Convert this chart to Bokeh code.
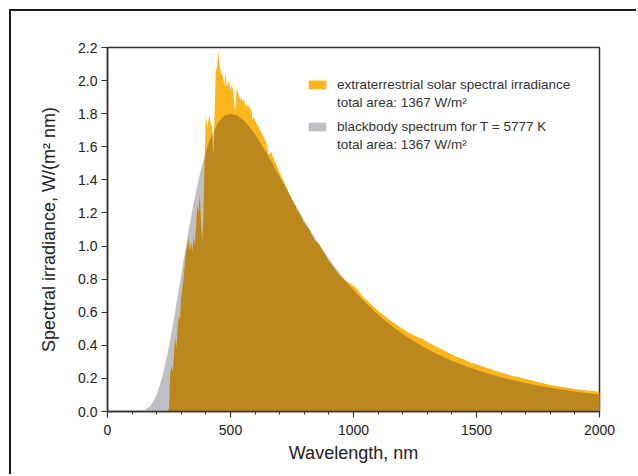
import numpy as np
from bokeh.plotting import figure
from bokeh.models import Range1d, FixedTicker, NumeralTickFormatter, Legend, LegendItem
from bokeh.embed import file_html
from bokeh.resources import INLINE

# Blackbody spectrum, T = 5777 K
bb_wavelength = list(range(100, 2025, 25))
bb_irradiance = [
    0.000, 0.001, 0.007, 0.033, 0.099, 0.220, 0.393, 0.603, 0.830, 1.054,
    1.259, 1.434, 1.573, 1.677, 1.747, 1.787, 1.799, 1.791, 1.765, 1.725,
    1.674, 1.616, 1.553, 1.487, 1.420, 1.352, 1.284, 1.219, 1.155, 1.093,
    1.034, 0.977, 0.924, 0.872, 0.824, 0.778, 0.735, 0.694, 0.656, 0.620,
    0.586, 0.554, 0.524, 0.496, 0.469, 0.444, 0.421, 0.399, 0.378, 0.359,
    0.340, 0.323, 0.307, 0.292, 0.278, 0.264, 0.251, 0.239, 0.228, 0.217,
    0.207, 0.198, 0.189, 0.180, 0.172, 0.1645, 0.157, 0.1505, 0.144, 0.138,
    0.132, 0.1265, 0.121, 0.116, 0.1115, 0.107, 0.103,
]

# Extraterrestrial solar spectral irradiance
solar_wavelength = list(range(245, 805, 5)) + list(range(820, 2020, 20))
solar_irradiance = [
    # 245 - 400
    0.00, 0.02, 0.22, 0.28, 0.24, 0.33, 0.45, 0.38, 0.50, 0.58,
    0.55, 0.70, 0.74, 0.82, 0.90, 0.97, 1.00, 1.05, 0.97, 1.02,
    0.96, 1.06, 1.00, 1.12, 1.25, 1.20, 1.31, 1.15, 1.02, 1.18,
    1.52, 1.80,
    # 405 - 600
    1.72, 1.76, 1.79, 1.74, 1.72, 1.55, 1.78, 2.05, 2.08, 2.18,
    2.10, 2.06, 2.04, 2.02, 1.97, 2.05, 1.96, 2.00, 1.98, 1.94,
    1.97, 1.95, 1.86, 1.80, 1.96, 1.93, 1.91, 1.88, 1.90, 1.87,
    1.89, 1.84, 1.86, 1.84, 1.85, 1.83, 1.82, 1.76, 1.78, 1.76,
    # 605 - 800
    1.74, 1.73, 1.72, 1.70, 1.69, 1.67, 1.66, 1.64, 1.63, 1.60,
    1.55, 1.56, 1.57, 1.55, 1.53, 1.51, 1.50, 1.48, 1.46, 1.44,
    1.43, 1.41, 1.40, 1.38, 1.36, 1.35, 1.33, 1.31, 1.30, 1.28,
    1.27, 1.25, 1.24, 1.22, 1.21, 1.20, 1.18, 1.17, 1.15, 1.14,
    # 820 - 2000
    1.10, 1.04, 1.01, 0.96, 0.91, 0.87, 0.83, 0.80, 0.78, 0.76,
    0.73, 0.69, 0.665, 0.635, 0.61, 0.585, 0.56, 0.54, 0.52, 0.50,
    0.48, 0.465, 0.45, 0.44, 0.42, 0.405, 0.39, 0.375, 0.36, 0.345,
    0.33, 0.32, 0.305, 0.295, 0.285, 0.275, 0.265, 0.255, 0.245, 0.235,
    0.227, 0.218, 0.21, 0.205, 0.197, 0.19, 0.182, 0.175, 0.168, 0.16,
    0.155, 0.15, 0.146, 0.14, 0.136, 0.132, 0.128, 0.125, 0.122, 0.12,
]

x_ticks = [0, 500, 1000, 1500, 2000]
x_minor_ticks = list(range(0, 2100, 100))
y_ticks = [0.0, 0.2, 0.4, 0.6, 0.8, 1.0, 1.2, 1.4, 1.6, 1.8, 2.0, 2.2]

legend_solar = ["extraterrestrial solar spectral irradiance", "total area: 1367 W/m\u00b2"]
legend_bb = ["blackbody spectrum for T = 5777 K", "total area: 1367 W/m\u00b2"]

ORANGE = "#FDB51C"
GRAY = "#BFBFC7"
OVERLAP = "#BA881D"
FONT = "Liberation Sans"

p = figure(width=627, height=465, output_backend="svg", toolbar_location=None,
           x_range=Range1d(0, 2000), y_range=Range1d(0, 2.2),
           min_border_left=96, min_border_right=39, min_border_top=36, min_border_bottom=65,
           styles={"margin-left": "9px", "margin-top": "9px",
                   "border-left": "2px solid #1a1a1a", "border-top": "2px solid #1a1a1a"})

sw = np.array(solar_wavelength, dtype=float)
sv = np.array(solar_irradiance, dtype=float)
bb_on_solar = np.interp(sw, bb_wavelength, bb_irradiance)
overlap = np.minimum(sv, bb_on_solar)

r_bb = p.varea(x=bb_wavelength, y1=0, y2=bb_irradiance, fill_color=GRAY)
r_sol = p.varea(x=solar_wavelength, y1=0, y2=solar_irradiance, fill_color=ORANGE)
p.varea(x=sw, y1=0, y2=overlap, fill_color=OVERLAP)
r_blank = p.varea(x=[], y1=[], y2=[], fill_alpha=0)

p.xgrid.visible = False
p.ygrid.visible = False
p.outline_line_color = "#333333"
p.outline_line_width = 1.5

xa = p.xaxis[0]
xa.ticker = FixedTicker(ticks=x_ticks, minor_ticks=x_minor_ticks)
xa.axis_label = "Wavelength, nm"
ya = p.yaxis[0]
ya.ticker = FixedTicker(ticks=y_ticks, minor_ticks=[])
ya.formatter = NumeralTickFormatter(format="0.0")
ya.axis_label = "Spectral irradiance, W/(m\u00b2 nm)"

for ax in (xa, ya):
    ax.axis_line_color = "#333333"
    ax.axis_line_width = 1.5
    ax.major_tick_line_color = "#333333"
    ax.major_tick_line_width = 1.2
    ax.minor_tick_line_color = "#333333"
    ax.major_tick_in = 0
    ax.major_tick_out = 6
    ax.minor_tick_in = 0
    ax.minor_tick_out = 3
    ax.major_label_text_font = FONT
    ax.major_label_text_font_size = "14px"
    ax.major_label_text_color = "#222222"
    ax.axis_label_text_font = FONT
    ax.axis_label_text_font_size = "18px"
    ax.axis_label_text_font_style = "normal"
    ax.axis_label_text_color = "#222222"
xa.major_label_standoff = 7
xa.axis_label_standoff = 5
ya.major_label_standoff = 4
ya.axis_label_standoff = 16


def make_legend(lines, renderer, loc):
    return Legend(items=[LegendItem(label=lines[0], renderers=[renderer]),
                         LegendItem(label=lines[1], renderers=[r_blank])],
                  location=loc, padding=0, margin=0, spacing=3,
                  glyph_width=22, glyph_height=11, label_standoff=9,
                  label_text_font=FONT, label_text_font_size="13.5px",
                  label_text_color="#333333", label_text_line_height=1.26,
                  border_line_color=None, background_fill_alpha=0)


p.add_layout(make_legend(legend_solar, r_sol, (199, 301)), "center")
p.add_layout(make_legend(legend_bb, r_bb, (199, 259)), "center")

open("out.html", "w").write(file_html(p, INLINE))
